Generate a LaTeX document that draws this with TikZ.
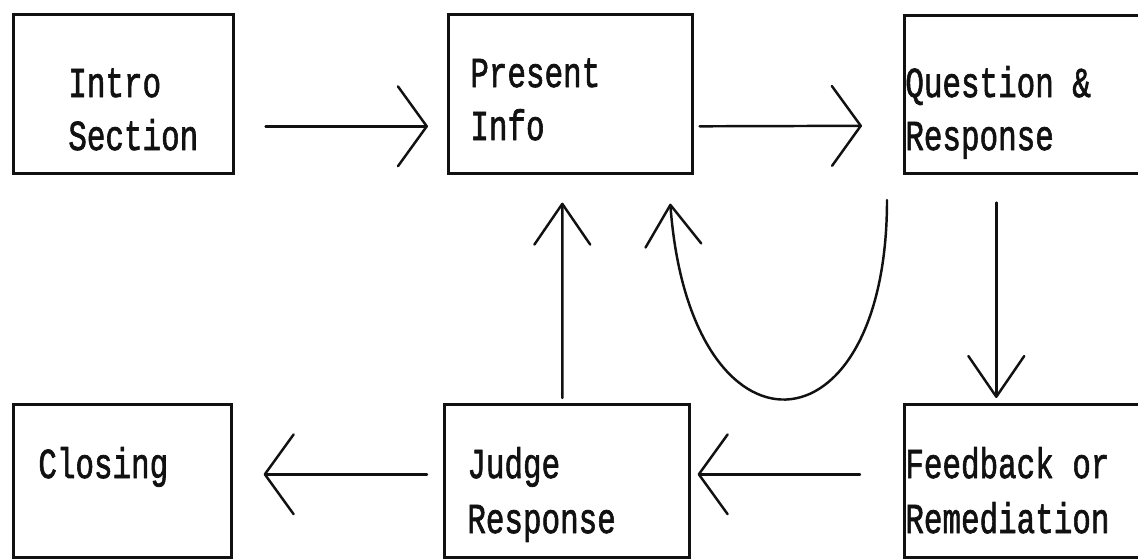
\documentclass[tikz,border=0pt]{standalone}
\usepackage{fontspec}
\setmainfont{Liberation Mono}[FakeBold=1.8]
\usepackage{tikz}
\usetikzlibrary{arrows.meta}
\definecolor{flowInk}{HTML}{111111}
\tikzset{
  flow diagram/.style={x=0.02cm, y=-0.02cm, color=flowInk,
    line cap=round, line join=round},
  flow box/.style={draw=flowInk, line width=1.5pt, inner sep=0pt,
    anchor=north west, line join=miter},
  flow text/.style={font=\fontsize{17.6}{20}\selectfont, text=flowInk,
    anchor=base west, inner sep=0pt, yscale=1.38},
  flow arrow/.style={draw=flowInk, line width=1.4pt,
    -{Straight Barb[length=16.4pt, width=45.4pt, round]}},
  flow arrow v/.style={draw=flowInk, line width=1.4pt,
    -{Straight Barb[length=23.2pt, width=31.8pt, round]}}
}

\begin{document}
\begin{tikzpicture}[flow diagram]
\useasboundingbox (0,0) rectangle (1138,559);
% boxes
\node[flow box, minimum width=4.40cm, minimum height=3.18cm] (intro) at (12,13) {};
\node[flow box, minimum width=4.88cm, minimum height=3.18cm] (present) at (447,13) {};
\node[flow box, minimum width=4.94cm, minimum height=3.16cm] (question) at (903,14) {};
\node[flow box, minimum width=4.36cm, minimum height=3.06cm] (closing) at (12,403) {};
\node[flow box, minimum width=4.90cm, minimum height=3.06cm] (judge) at (443,403) {};
\node[flow box, minimum width=4.94cm, minimum height=3.06cm] (feedback) at (903,403) {};
% labels
\node[flow text] (intro-a) at (68,97) {Intro};
\node[flow text] (intro-b) at (68,150) {Section};
\node[flow text] (present-a) at (470,87) {Present};
\node[flow text] (present-b) at (470,140) {Info};
\node[flow text] (question-a) at (905,97) {Question \&};
\node[flow text] (question-b) at (905,150) {Response};
\node[flow text] (closing-a) at (38,478) {Closing};
\node[flow text] (judge-a) at (467,478) {Judge};
\node[flow text] (judge-b) at (467,533) {Response};
\node[flow text] (feedback-a) at (905,478) {Feedback or};
\node[flow text] (feedback-b) at (905,533) {Remediation};
% connectors
\draw[flow arrow] ([shift={(31,32.5)}]intro.east) -- ([shift={(-19,32.5)}]present.west);
\draw[flow arrow] ([shift={(6,32.5)}]present.east) -- ([shift={(-41,31.5)}]question.west);
\draw[flow arrow v] ([shift={(-31.5,28)}]question.south) -- ([shift={(-31.5,-5)}]feedback.north);
\draw[flow arrow] ([shift={(-43,-6.5)}]feedback.west) -- ([shift={(7,-6.5)}]judge.east);
\draw[flow arrow] ([shift={(-16,-6.5)}]judge.west) -- ([shift={(31,-6.5)}]closing.east);
\draw[flow arrow v] ([shift={(-4.5,-5)}]judge.north) -- ([shift={(-8,28)}]present.south);
\coordinate (loopstart) at (887,200);
\draw[flow arrow v] (loopstart) .. controls (887,460) and (690,470) .. ([shift={(100,29)}]present.south);
\end{tikzpicture}
\end{document}
